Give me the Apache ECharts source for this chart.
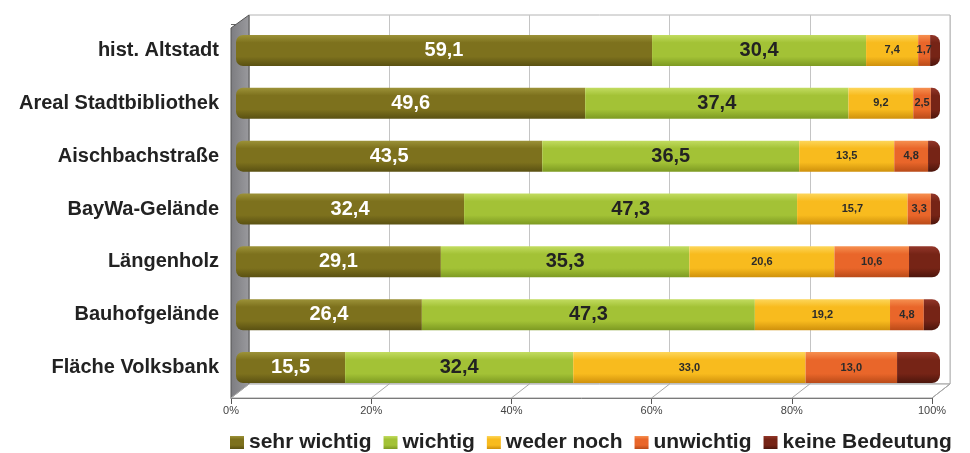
<!DOCTYPE html>
<html>
<head>
<meta charset="utf-8">
<script src="https://cdn.jsdelivr.net/npm/echarts@6/dist/echarts.min.js"></script>
<style>
  html, body { margin: 0; padding: 0; background: #fff; }
  #chart { width: 970px; height: 453px; }
</style>
</head>
<body>
<div id="chart"></div>
<script>
// Standorte (von oben nach unten)
const categories = [
  'hist. Altstadt',
  'Areal Stadtbibliothek',
  'Aischbachstraße',
  'BayWa-Gelände',
  'Längenholz',
  'Bauhofgelände',
  'Fläche Volksbank',
]

const sehrWichtig = [59.1, 49.6, 43.5, 32.4, 29.1, 26.4, 15.5]
const wichtig = [30.4, 37.4, 36.5, 47.3, 35.3, 47.3, 32.4]
const wederNoch = [7.4, 9.2, 13.5, 15.7, 20.6, 19.2, 33.0]
const unwichtig = [1.7, 2.5, 4.8, 3.3, 10.6, 4.8, 13.0]
const keineBedeutung = [1.4, 1.3, 1.7, 1.3, 4.4, 2.3, 6.1]

const xTicks = [0, 20, 40, 60, 80, 100]

const fmt = (v) => v.toFixed(1).replace('.', ',')

function cyl(top, mid, bottom) {
  return new echarts.graphic.LinearGradient(0, 0, 0, 1, [
    { offset: 0, color: top },
    { offset: 0.25, color: mid },
    { offset: 0.7, color: mid },
    { offset: 1, color: bottom },
  ])
}

const FONT = 'Liberation Sans, Arial, sans-serif'

function barSeries(name, data, color, label, radius) {
  return {
    name: name,
    type: 'bar',
    stack: 'total',
    data: data,
    barWidth: 31,
    xAxisIndex: 0,
    yAxisIndex: 0,
    z: 3,
    itemStyle: { color: color, borderRadius: radius || 0 },
    label: label,
  }
}

const bigLabel = (c) => ({
  show: true,
  position: 'inside',
  color: c,
  fontFamily: FONT,
  fontWeight: 'bold',
  fontSize: 20,
  formatter: (p) => fmt(p.value),
})
const smallLabel = {
  show: true,
  position: 'inside',
  color: '#2b2b2b',
  fontFamily: FONT,
  fontWeight: 'bold',
  fontSize: 11,
  formatter: (p) => fmt(p.value),
}

// 3D-Rahmen: linke Wand, Boden mit Gitterlinien
const floorLines = xTicks.map((t) => ({
  type: 'line',
  z: 1,
  shape: { x1: 231 + t * 7.01, y1: 398, x2: 249 + t * 7.01, y2: 384 },
  style: { stroke: '#a8a8a8', lineWidth: 1 },
}))

const option = {
  backgroundColor: '#fff',
  animation: false,
  grid: [
    { left: 236, width: 704, top: 24, height: 370 },
    {
      left: 249, width: 701, top: 15, height: 369,
      show: true, backgroundColor: '#fff', borderColor: '#b4b4b4', borderWidth: 1,
    },
    { left: 231, width: 701, top: 397, height: 1 },
  ],
  xAxis: [
    { gridIndex: 0, type: 'value', min: 0, max: 100, show: false },
    {
      gridIndex: 1, type: 'value', min: 0, max: 100, interval: 20,
      axisLine: { show: false }, axisTick: { show: false }, axisLabel: { show: false },
      splitLine: { show: true, lineStyle: { color: '#c4c4c4', width: 1 } },
    },
    {
      gridIndex: 2, type: 'value', min: 0, max: 100, interval: 20,
      position: 'bottom',
      axisLine: { show: true, lineStyle: { color: '#555', width: 1 } },
      axisTick: { show: true, length: 6, lineStyle: { color: '#555' } },
      splitLine: { show: false },
      axisLabel: {
        formatter: '{value}%', color: '#444', fontSize: 11, fontFamily: FONT, margin: 7,
      },
    },
  ],
  yAxis: [
    {
      gridIndex: 0,
      type: 'category',
      data: categories,
      inverse: true,
      offset: 5,
      axisLine: { show: false },
      axisTick: { show: true, length: 5, lineStyle: { color: '#666' } },
      axisLabel: {
        color: '#222', fontFamily: FONT, fontWeight: 'bold', fontSize: 20, margin: 12,
      },
    },
    { gridIndex: 1, type: 'value', show: false },
    { gridIndex: 2, type: 'value', show: false },
  ],
  legend: {
    left: 225,
    top: 427,
    itemWidth: 14,
    itemHeight: 13,
    itemGap: 12,
    icon: 'rect',
    textStyle: { color: '#222', fontFamily: FONT, fontWeight: 'bold', fontSize: 21 },
    data: ['sehr wichtig', 'wichtig', 'weder noch', 'unwichtig', 'keine Bedeutung'],
  },
  color: ['#877a1f', '#a8c83a', '#fcc12a', '#ef6a28', '#7a2417'],
  graphic: [
    {
      type: 'polygon',
      z: 1,
      shape: { points: [[231, 28], [249, 15], [249, 384], [231, 398]] },
      style: {
        fill: new echarts.graphic.LinearGradient(0, 0, 1, 0, [
          { offset: 0, color: '#7c7c80' },
          { offset: 1, color: '#9a9a9e' },
        ]),
        stroke: '#555', lineWidth: 1,
      },
    },
    {
      type: 'polygon',
      z: 1,
      shape: { points: [[231, 398], [249, 384], [950, 384], [932, 398]] },
      style: { fill: '#fff', stroke: '#a0a0a0', lineWidth: 1 },
    },
    ...floorLines,
  ],
  series: [
    barSeries('sehr wichtig', sehrWichtig, cyl('#9c9238', '#7d711d', '#5a5112'), bigLabel('#fff'), [7, 0, 0, 7]),
    barSeries('wichtig', wichtig, cyl('#c2dc60', '#a3c236', '#7d9a22'), bigLabel('#222')),
    barSeries('weder noch', wederNoch, cyl('#fdd65a', '#f8bb1e', '#cf910c'), smallLabel),
    barSeries('unwichtig', unwichtig, cyl('#f69050', '#e9662a', '#b94a18'), smallLabel),
    barSeries('keine Bedeutung', keineBedeutung, cyl('#93372a', '#762416', '#4c150c'), { show: false }, [0, 8, 8, 0]),
  ],
}

const chart = echarts.init(document.getElementById('chart'))
chart.setOption(option)
</script>
</body>
</html>
